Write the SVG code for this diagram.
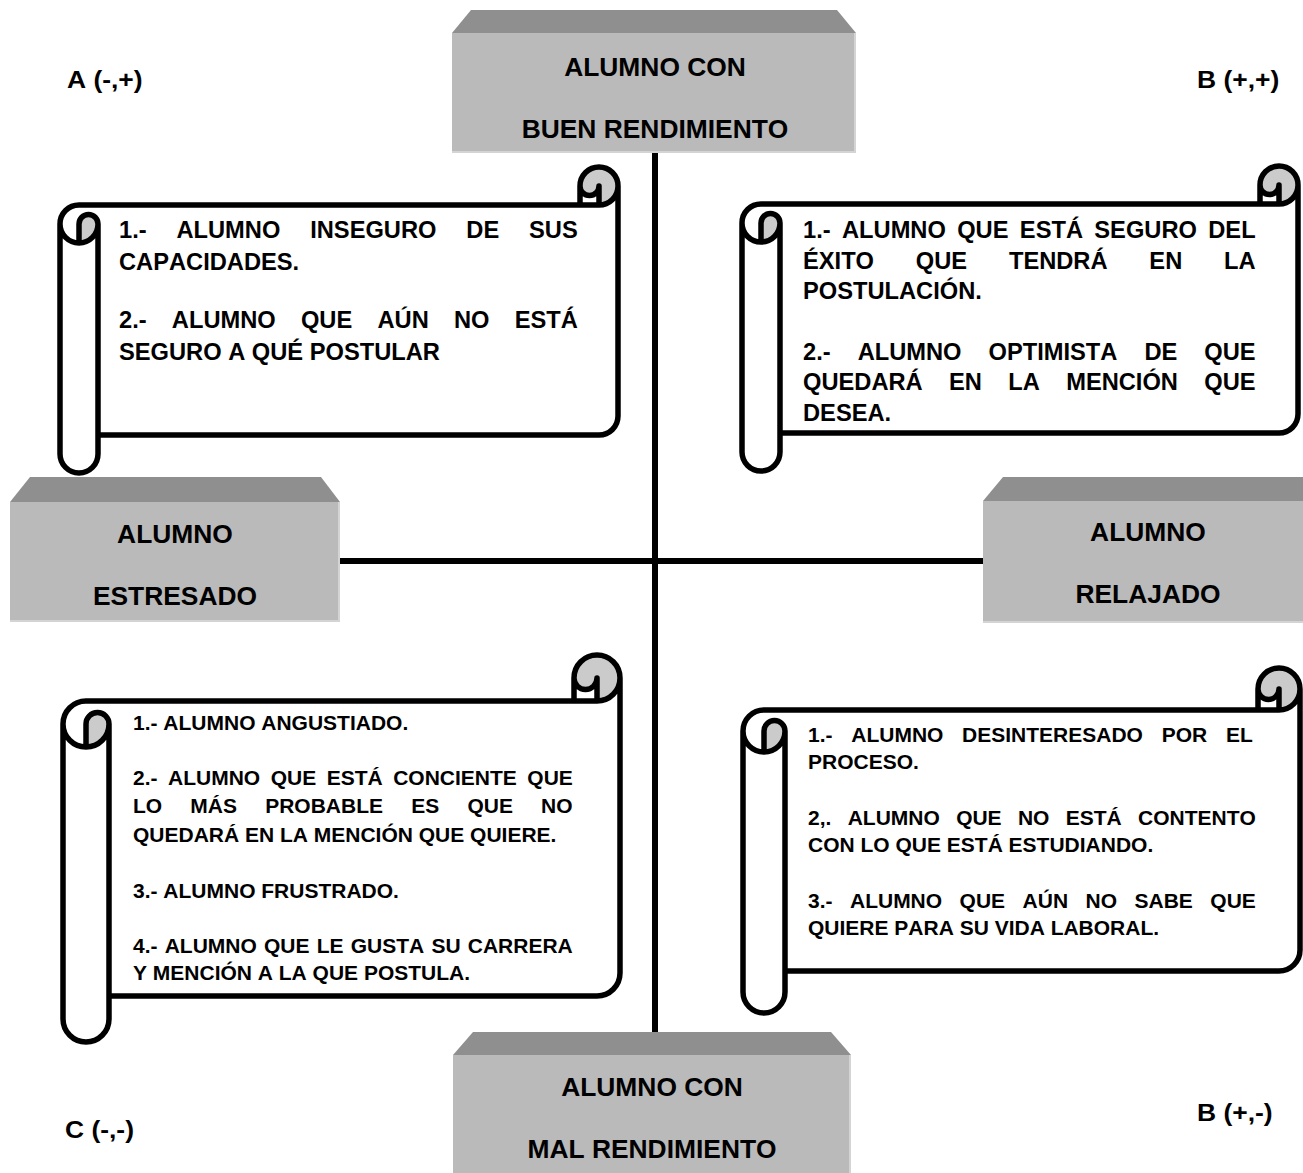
<svg xmlns="http://www.w3.org/2000/svg" width="1303" height="1173" viewBox="0 0 1303 1173">
<style>
  .t { font-family: "Liberation Sans", Arial, sans-serif; font-weight: bold; fill: #000; font-kerning: none; }
  .bx { font-size: 25.5px; }
  .lab { font-size: 23px; }
  .st { font-size: 23px; }
  .sb { font-size: 20px; }
  .bevel { fill: #8f8f8f; }
  .face { fill: #bababa; }
  .edge { stroke: #d4d4d4; stroke-width: 2; fill: none; }
  .body { fill: #ffffff; stroke: none; }
  .back { fill: #cbcbcb; stroke: none; }
  .outline { fill: none; stroke: #000; stroke-width: 5.5; stroke-linejoin: round; stroke-linecap: round; }
  .conn { stroke: #000; stroke-width: 6; fill: none; }
</style>
<rect x="0" y="0" width="1303" height="1173" fill="#ffffff"/>

<g id="connectors">
  <line class="conn" x1="655" y1="150" x2="655" y2="1036"/>
  <line class="conn" x1="338" y1="561" x2="986" y2="561"/>
</g>

<g id="node-buen-rendimiento">
  <polygon class="bevel" points="452,33 471,10 837,10 856,33"/>
  <rect class="face" x="452" y="33" width="404" height="120"/>
  <polyline class="edge" points="855,33 855,152 452,152"/>
  <g transform="translate(655 0) scale(1.035 1)">
    <text class="t bx" x="0" y="76" text-anchor="middle">ALUMNO CON</text>
    <text class="t bx" x="0" y="138" text-anchor="middle">BUEN RENDIMIENTO</text>
  </g>
</g>

<g id="node-estresado">
  <polygon class="bevel" points="10,502 30,477 321,477 340,502"/>
  <rect class="face" x="10" y="502" width="330" height="120"/>
  <polyline class="edge" points="339,502 339,621 10,621"/>
  <g transform="translate(175 0) scale(1.035 1)">
    <text class="t bx" x="0" y="543" text-anchor="middle">ALUMNO</text>
    <text class="t bx" x="0" y="605" text-anchor="middle">ESTRESADO</text>
  </g>
</g>

<g id="node-relajado">
  <polygon class="bevel" points="983,501 1003,477 1303,477 1310,501"/>
  <rect class="face" x="983" y="501" width="330" height="122"/>
  <polyline class="edge" points="983,622 1303,622"/>
  <g transform="translate(1148 0) scale(1.035 1)">
    <text class="t bx" x="0" y="541" text-anchor="middle">ALUMNO</text>
    <text class="t bx" x="0" y="603" text-anchor="middle">RELAJADO</text>
  </g>
</g>

<g id="node-mal-rendimiento">
  <polygon class="bevel" points="453,1055 473,1032 831,1032 851,1055"/>
  <rect class="face" x="453" y="1055" width="398" height="130"/>
  <polyline class="edge" points="850,1055 850,1173"/>
  <g transform="translate(652 0) scale(1.035 1)">
    <text class="t bx" x="0" y="1096" text-anchor="middle">ALUMNO CON</text>
    <text class="t bx" x="0" y="1158" text-anchor="middle">MAL RENDIMIENTO</text>
  </g>
</g>

<g id="quadrant-labels">
  <text class="t lab" transform="translate(67 88) scale(1.15 1)">A (-,+)</text>
  <text class="t lab" transform="translate(1197 88) scale(1.15 1)">B (+,+)</text>
  <text class="t lab" transform="translate(65 1138) scale(1.15 1)">C (-,-)</text>
  <text class="t lab" transform="translate(1197 1121) scale(1.15 1)">B (+,-)</text>
</g>

<g id="scroll-a">
  <path class="body" d="M618,186 A19 19 0 0 1 599,205 L599,186 A9.5 9.5 0 0 1 580,186 L580,205 L79,205 A19 19 0 0 0 60,224 L60,454 A19 19 0 0 0 98,454 L98,435 L599,435 A19 19 0 0 0 618,416 Z"/>
  <path class="back" d="M79,243 A19 19 0 0 0 98,224 A9.5 9.5 0 0 0 79,224 Z M599,205 A19 19 0 1 0 580,186 A9.5 9.5 0 0 0 599,186 Z"/>
  <path class="outline" d="M60,224 A19 19 0 0 1 79,205 L580,205 L580,186 A19 19 0 0 1 618,186 L618,416 A19 19 0 0 1 599,435 L98,435 L98,454 A19 19 0 0 1 60,454 Z M580,205 L599,205 A19 19 0 0 0 618,186 M599,205 L599,186 A9.5 9.5 0 0 1 580,186 M79,243 L79,224 A9.5 9.5 0 0 1 98,224 A19 19 0 0 1 60,224 M98,224 L98,435"/>
  <g transform="translate(119 0) scale(1.03 1)">
    <text class="t st" x="0" y="238" word-spacing="22.6">1.- ALUMNO INSEGURO DE SUS</text>
    <text class="t st" x="0" y="270">CAPACIDADES.</text>
    <text class="t st" x="0" y="328" word-spacing="18.1">2.- ALUMNO QUE AÚN NO ESTÁ</text>
    <text class="t st" x="0" y="360">SEGURO A QUÉ POSTULAR</text>
  </g>
</g>

<g id="scroll-b">
  <path class="body" d="M1298,185 A19 19 0 0 1 1279,204 L1279,185 A9.5 9.5 0 0 1 1260,185 L1260,204 L761,204 A19 19 0 0 0 742,223 L742,452 A19 19 0 0 0 780,452 L780,433 L1279,433 A19 19 0 0 0 1298,414 Z"/>
  <path class="back" d="M761,242 A19 19 0 0 0 780,223 A9.5 9.5 0 0 0 761,223 Z M1279,204 A19 19 0 1 0 1260,185 A9.5 9.5 0 0 0 1279,185 Z"/>
  <path class="outline" d="M742,223 A19 19 0 0 1 761,204 L1260,204 L1260,185 A19 19 0 0 1 1298,185 L1298,414 A19 19 0 0 1 1279,433 L780,433 L780,452 A19 19 0 0 1 742,452 Z M1260,204 L1279,204 A19 19 0 0 0 1298,185 M1279,204 L1279,185 A9.5 9.5 0 0 1 1260,185 M761,242 L761,223 A9.5 9.5 0 0 1 780,223 A19 19 0 0 1 742,223 M780,223 L780,433"/>
  <g transform="translate(803 0) scale(1.03 1)">
    <text class="t st" x="0" y="238" word-spacing="4.64">1.- ALUMNO QUE ESTÁ SEGURO DEL</text>
    <text class="t st" x="0" y="269" word-spacing="34.2">ÉXITO QUE TENDRÁ EN LA</text>
    <text class="t st" x="0" y="299">POSTULACIÓN.</text>
    <text class="t st" x="0" y="360" word-spacing="19.85">2.- ALUMNO OPTIMISTA DE QUE</text>
    <text class="t st" x="0" y="390" word-spacing="19.2">QUEDARÁ EN LA MENCIÓN QUE</text>
    <text class="t st" x="0" y="421">DESEA.</text>
  </g>
</g>

<g id="scroll-c">
  <path class="body" d="M620,678 A23 23 0 0 1 597,701 L597,678 A11.5 11.5 0 0 1 574,678 L574,701 L86,701 A23 23 0 0 0 63,724 L63,1019 A23 23 0 0 0 109,1019 L109,996 L597,996 A23 23 0 0 0 620,973 Z"/>
  <path class="back" d="M86,747 A23 23 0 0 0 109,724 A11.5 11.5 0 0 0 86,724 Z M597,701 A23 23 0 1 0 574,678 A11.5 11.5 0 0 0 597,678 Z"/>
  <path class="outline" d="M63,724 A23 23 0 0 1 86,701 L574,701 L574,678 A23 23 0 0 1 620,678 L620,973 A23 23 0 0 1 597,996 L109,996 L109,1019 A23 23 0 0 1 63,1019 Z M574,701 L597,701 A23 23 0 0 0 620,678 M597,701 L597,678 A11.5 11.5 0 0 1 574,678 M86,747 L86,724 A11.5 11.5 0 0 1 109,724 A23 23 0 0 1 63,724 M109,724 L109,996"/>
  <g transform="translate(133 0) scale(1.05 1)">
    <text class="t sb" x="0" y="730">1.- ALUMNO ANGUSTIADO.</text>
    <text class="t sb" x="0" y="785" word-spacing="4.46">2.- ALUMNO QUE ESTÁ CONCIENTE QUE</text>
    <text class="t sb" x="0" y="813" word-spacing="21.3">LO MÁS PROBABLE ES QUE NO</text>
    <text class="t sb" x="0" y="842">QUEDARÁ EN LA MENCIÓN QUE QUIERE.</text>
    <text class="t sb" x="0" y="898">3.- ALUMNO FRUSTRADO.</text>
    <text class="t sb" x="0" y="953" word-spacing="1.3">4.- ALUMNO QUE LE GUSTA SU CARRERA</text>
    <text class="t sb" x="0" y="980">Y MENCIÓN A LA QUE POSTULA.</text>
  </g>
</g>

<g id="scroll-d">
  <path class="body" d="M1300,689 A21 21 0 0 1 1279,710 L1279,689 A10.5 10.5 0 0 1 1258,689 L1258,710 L764,710 A21 21 0 0 0 743,731 L743,992 A21 21 0 0 0 785,992 L785,971 L1279,971 A21 21 0 0 0 1300,950 Z"/>
  <path class="back" d="M764,752 A21 21 0 0 0 785,731 A10.5 10.5 0 0 0 764,731 Z M1279,710 A21 21 0 1 0 1258,689 A10.5 10.5 0 0 0 1279,689 Z"/>
  <path class="outline" d="M743,731 A21 21 0 0 1 764,710 L1258,710 L1258,689 A21 21 0 0 1 1300,689 L1300,950 A21 21 0 0 1 1279,971 L785,971 L785,992 A21 21 0 0 1 743,992 Z M1258,710 L1279,710 A21 21 0 0 0 1300,689 M1279,710 L1279,689 A10.5 10.5 0 0 1 1258,689 M764,752 L764,731 A10.5 10.5 0 0 1 785,731 A21 21 0 0 1 743,731 M785,731 L785,971"/>
  <g transform="translate(808 0) scale(1.05 1)">
    <text class="t sb" x="0" y="742" word-spacing="12.3">1.- ALUMNO DESINTERESADO POR EL</text>
    <text class="t sb" x="0" y="769">PROCESO.</text>
    <text class="t sb" x="0" y="825" word-spacing="10">2,. ALUMNO QUE NO ESTÁ CONTENTO</text>
    <text class="t sb" x="0" y="852">CON LO QUE ESTÁ ESTUDIANDO.</text>
    <text class="t sb" x="0" y="908" word-spacing="11.1">3.- ALUMNO QUE AÚN NO SABE QUE</text>
    <text class="t sb" x="0" y="935">QUIERE PARA SU VIDA LABORAL.</text>
  </g>
</g>
</svg>
